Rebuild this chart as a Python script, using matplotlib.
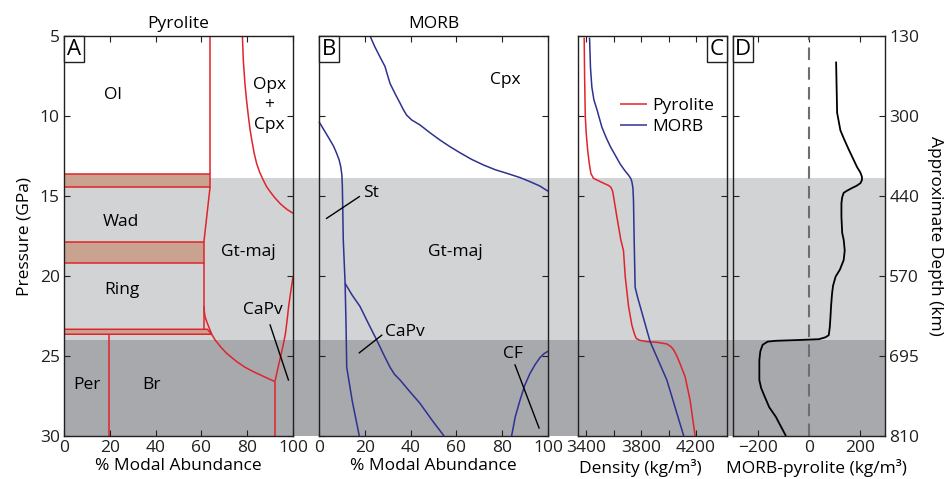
import matplotlib
matplotlib.use('Agg')
import matplotlib.pyplot as plt
from matplotlib.patches import Rectangle, Polygon
import matplotlib.transforms as mtransforms

plt.rcParams['font.family'] = ['Open Sans', 'DejaVu Sans']
plt.rcParams['font.size'] = 12.5

RED = '#e0242b'
BLUE = '#2e3192'
BROWN = '#c9a290'
LGRAY = '#d1d3d4'
DGRAY = '#a7a9ac'
INK = '#231f20'

# ---------------- data ----------------
p_ticks = [5, 10, 15, 20, 25, 30]
depth_labels = ['130', '300', '440', '570', '695', '810']
tz_top, tz_mid, tz_bot = 13.9, 24.0, 30.0

# Panel A (pyrolite, % modal abundance vs pressure GPa)
ol_x = [63.8, 63.8]
ol_p = [5.0, 13.64]
band1 = (13.64, 14.42, 63.8)          # top P, bottom P, right x
wad_x = [63.8, 61.1]
wad_p = [14.42, 17.86]
band2 = (17.86, 19.17, 61.1)
ring_x = [61.1, 61.1]
ring_p = [19.17, 23.33]
band3_x = [0, 62.6, 64.5, 0]
band3_p = [23.33, 23.33, 23.64, 23.64]
gt_x = [61.1, 61.3, 61.6, 62.2, 63.0, 64.5, 66.0, 68.5, 71.0, 75.4, 79.0, 82.7, 87.5, 92.1]
gt_p = [21.9, 22.25, 22.54, 22.8, 23.1, 23.64, 24.0, 24.45, 24.83, 25.35, 25.7, 25.98, 26.3, 26.6]
capvA_x = [100.0, 99.0, 98.1, 97.4, 96.7, 95.8, 94.9, 93.5, 92.1]
capvA_p = [20.04, 21.0, 21.9, 22.8, 23.6, 24.25, 24.83, 25.7, 26.6]
per_x = [19.7, 19.7]
per_p = [23.64, 30.0]
br_x = [92.1, 92.1]
br_p = [26.6, 30.0]
opx_x = [77.9, 78.3, 79.0, 79.7, 80.5, 81.2, 82.0, 83.0, 84.1, 85.4, 87.0, 88.4,
         90.0, 92.0, 94.3, 96.0, 97.5, 100.0]
opx_p = [5.0, 6.5, 7.96, 9.0, 10.0, 10.8, 11.5, 12.3, 12.96, 13.5, 14.0, 14.4,
         14.73, 15.1, 15.46, 15.68, 15.85, 16.08]

# Panel B (MORB)
cpxB_x = [22.3, 24.3, 26.6, 28.8, 31.0, 33.2, 35.4, 36.9, 38.3, 40.5, 44.1, 48.5,
          52.8, 57.0, 61.6, 66.5, 71.8, 77.0, 82.0, 87.8, 92.1, 96.5, 100.0]
cpxB_p = [5.0, 5.65, 6.3, 6.9, 7.96, 8.6, 9.2, 9.62, 9.95, 10.25, 10.56, 11.05,
          11.5, 11.9, 12.3, 12.7, 13.06, 13.36, 13.58, 13.85, 14.1, 14.38, 14.7]
stB_x = [0.0, 2.5, 4.8, 6.4, 7.7, 8.8, 9.5, 10.0, 10.2, 10.4, 10.6, 11.0, 11.4, 11.8, 12.1, 14.5, 17.6]
stB_p = [10.36, 10.95, 11.5, 11.9, 12.33, 12.75, 13.17, 13.7, 14.42, 16.0, 17.75, 19.1, 20.46, 23.0, 25.7, 27.8, 30.0]
capvB_x = [11.4, 14.5, 17.9, 21.5, 25.2, 28.2, 31.0, 33.0, 35.4, 39.5, 44.1, 49.3, 54.6]
capvB_p = [20.46, 21.2, 21.9, 22.95, 24.0, 24.9, 25.7, 26.15, 26.5, 27.2, 27.96, 29.0, 30.0]
cfB_x = [84.1, 85.7, 87.8, 89.8, 92.1, 94.3, 96.5, 98.3, 100.0]
cfB_p = [30.0, 28.8, 27.75, 26.85, 26.1, 25.55, 25.1, 24.85, 24.7]

# Panel C (density, kg/m3)
pyr_rho = [3385, 3388, 3393, 3400, 3410, 3421, 3434, 3453, 3490, 3526, 3560, 3580, 3592,
           3599, 3623, 3652, 3671, 3684, 3708, 3732, 3750, 3764, 3790, 3841, 3920, 3987,
           4015, 4035, 4060, 4084, 4120, 4156, 4193]
pyr_p = [5.1, 7.5, 10.0, 11.1, 12.1, 12.9, 13.6, 13.9, 14.05, 14.2, 14.33, 14.46, 14.7,
         15.04, 16.3, 17.75, 18.4, 20.04, 21.9, 23.06, 23.6, 23.9, 24.02, 24.1, 24.15, 24.25,
         24.4, 24.6, 25.0, 25.5, 26.3, 27.75, 30.0]
morb_rho = [3424, 3431, 3441, 3456, 3478, 3514, 3545, 3575, 3611, 3647, 3680, 3708,
            3724, 3732, 3740, 3744, 3749, 3756, 3773, 3865, 3987, 4110]
morb_p = [5.1, 7.0, 8.2, 9.0, 9.6, 10.7, 11.35, 11.9, 12.45, 13.0, 13.4, 13.7,
          13.9, 14.1, 14.5, 15.25, 17.75, 20.7, 21.3, 24.1, 26.5, 30.0]

# Panel D (MORB - pyrolite)
diff_rho = [107, 109, 111, 124, 140, 157, 175, 190, 203, 209, 209, 203, 187, 170, 150,
            137, 131, 128, 128, 131, 137, 141, 137, 122, 105, 95, 91, 87, 85, 82, 78,
            65, 39, -39, -131, -163, -183, -192, -196, -196, -189, -176, -157, -131,
            -111, -91]
diff_p = [6.6, 8.2, 9.8, 10.9, 11.5, 12.1, 12.7, 13.2, 13.54, 13.8, 14.0, 14.2, 14.37,
          14.5, 14.67, 14.8, 15.08, 15.45, 16.3, 17.3, 17.75, 18.4, 19.0, 19.6, 20.04,
          20.6, 21.1, 21.9, 22.5, 23.2, 23.7, 23.83, 23.95, 24.0, 24.05, 24.1, 24.3,
          24.7, 25.25, 26.5, 27.0, 27.5, 28.2, 28.8, 29.4, 30.0]

# ---------------- figure ----------------
W, H = 951, 479
fig = plt.figure(figsize=(W / 100, H / 100), dpi=100)


def px_axes(x0, x1, y0, y1):
    return fig.add_axes([x0 / W, (H - y1) / H, (x1 - x0) / W, (y1 - y0) / H])


axA = px_axes(64, 293, 36, 436)
axB = px_axes(319, 548, 36, 436)
axC = px_axes(578, 727, 36, 436)
axD = px_axes(733, 885, 36, 436)
axes = [axA, axB, axC, axD]

for ax in axes:
    ax.set_facecolor('none')
    ax.set_ylim(30, 5)
    ax.set_yticks(p_ticks)
    for s in ax.spines.values():
        s.set_color(INK)
        s.set_linewidth(1.0)
    ax.tick_params(direction='in', length=4, width=0.8, colors=INK,
                   top=True, right=True, labelsize=12.5, pad=3)

# background transition-zone bands spanning the whole row of panels
blend = mtransforms.blended_transform_factory(fig.transFigure, axA.transData)
x_left, x_right = 64 / W, 885 / W
fig.add_artist(Rectangle((x_left, tz_top), x_right - x_left, tz_mid - tz_top,
                         transform=blend, facecolor=LGRAY, edgecolor='none', zorder=-2))
fig.add_artist(Rectangle((x_left, tz_mid), x_right - x_left, tz_bot - tz_mid,
                         transform=blend, facecolor=DGRAY, edgecolor='none', zorder=-2))

lw = 1.1
kw = dict(solid_joinstyle='round', solid_capstyle='butt')

# ---- Panel A ----
axA.set_xlim(0, 100)
axA.set_xticks([0, 20, 40, 60, 80, 100])
axA.set_ylabel('Pressure (GPa)', labelpad=5)
axA.set_xlabel('% Modal Abundance', labelpad=1)
axA.set_title('Pyrolite', fontsize=12.5, pad=6)
for (pt, pb, xr) in (band1, band2):
    axA.add_patch(Rectangle((0, pt), xr, pb - pt, facecolor=BROWN, edgecolor=RED, lw=lw))
axA.add_patch(Polygon(list(zip(band3_x, band3_p)), closed=True,
                      facecolor=BROWN, edgecolor=RED, lw=lw))
for xs, ps in ((ol_x, ol_p), (wad_x, wad_p), (ring_x, ring_p), (gt_x, gt_p),
               (capvA_x, capvA_p), (per_x, per_p), (br_x, br_p), (opx_x, opx_p)):
    axA.plot(xs, ps, color=RED, lw=lw, clip_on=False, **kw)
axA.text(21.4, 8.7, 'Ol', ha='center', va='center')
axA.text(89.7, 9.3, 'Opx\n+\nCpx', ha='center', va='center', linespacing=1.35)
axA.text(25.0, 16.6, 'Wad', ha='center', va='center')
axA.text(80.5, 18.5, 'Gt-maj', ha='center', va='center')
axA.text(25.2, 20.9, 'Ring', ha='center', va='center')
axA.text(87.0, 22.1, 'CaPv', ha='center', va='center')
axA.plot([90.0, 98.0], [23.06, 26.5], color='black', lw=1.0)
axA.text(9.9, 26.8, 'Per', ha='center', va='center')
axA.text(38.3, 26.8, 'Br', ha='center', va='center')

# ---- Panel B ----
axB.set_xlim(0, 100)
axB.set_xticks([0, 20, 40, 60, 80, 100])
axB.tick_params(labelleft=False)
axB.set_xlabel('% Modal Abundance', labelpad=1)
axB.set_title('MORB', fontsize=12.5, pad=6)
for xs, ps in ((cpxB_x, cpxB_p), (stB_x, stB_p), (capvB_x, capvB_p), (cfB_x, cfB_p)):
    axB.plot(xs, ps, color=BLUE, lw=lw, clip_on=False, **kw)
axB.text(81.2, 7.75, 'Cpx', ha='center', va='center')
axB.text(22.6, 14.83, 'St', ha='center', va='center')
axB.plot([17.6, 3.3], [15.04, 16.4], color='black', lw=1.0)
axB.text(59.4, 18.5, 'Gt-maj', ha='center', va='center')
axB.text(37.6, 23.5, 'CaPv', ha='center', va='center')
axB.plot([27.4, 17.6], [23.7, 24.8], color='black', lw=1.0)
axB.text(84.6, 24.9, 'CF', ha='center', va='center')
axB.plot([85.6, 96.1], [25.56, 29.5], color='black', lw=1.0)

# ---- Panel C ----
axC.set_xlim(3340, 4425)
axC.set_xticks([3400, 3600, 3800, 4000, 4200], labels=['3400', '', '3800', '', '4200'])
axC.tick_params(labelleft=False)
axC.set_xlabel('Density (kg/m³)')
axC.xaxis.set_label_coords(0.42, -0.057, transform=axC.transAxes)
axC.xaxis.label.set_va('top')
axC.plot(pyr_rho, pyr_p, color=RED, lw=lw, label='Pyrolite', **kw)
axC.plot(morb_rho, morb_p, color=BLUE, lw=lw, label='MORB', **kw)
axC.legend(loc='upper left', bbox_to_anchor=(0.28, 0.845), frameon=False,
           borderpad=0, borderaxespad=0, handlelength=1.6, handletextpad=0.3,
           labelspacing=0.28, fontsize=12.5)

# ---- Panel D ----
axD.set_xlim(-300, 300)
axD.set_xticks([-200, 0, 200])
axD.axvline(0, color='#6d6e71', lw=1.5, dashes=(6, 3.5))
axD.plot(diff_rho, diff_p, color='black', lw=1.3, **kw)
axD.set_xlabel('MORB-pyrolite (kg/m³)')
axD.xaxis.set_label_coords(0.55, -0.057, transform=axD.transAxes)
axD.xaxis.label.set_va('top')
axD.set_yticks(p_ticks, labels=depth_labels)
axD.tick_params(labelleft=False, labelright=True)
axD.yaxis.set_label_position('right')
axD.set_ylabel('Approximate Depth (km)', rotation=270, labelpad=17)


# ---- panel letter boxes ----
def letter(ax, s, right=False):
    bb = ax.get_position()
    w_ax = 20 / (bb.width * W)
    h_ax = 26 / (bb.height * H)
    x0 = 1 - w_ax if right else 0
    ax.add_patch(Rectangle((x0, 1 - h_ax), w_ax, h_ax, transform=ax.transAxes,
                           facecolor='white', edgecolor=INK, lw=1.0, zorder=5,
                           clip_on=False))
    ax.text(x0 + w_ax / 2, 1 - h_ax / 2, s, transform=ax.transAxes, ha='center',
            va='center', fontsize=16, zorder=6)


letter(axA, 'A')
letter(axB, 'B')
letter(axC, 'C', right=True)
letter(axD, 'D')

fig.savefig('out.png', dpi=100)
